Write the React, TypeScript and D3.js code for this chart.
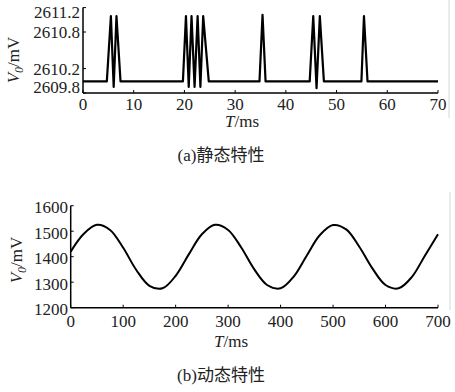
import React from 'react';
import * as d3 from 'd3';

// (a) static characteristic: time (ms) / output (mV)
const staticTime = [0, 4.7, 5.5, 6.05, 6.6, 7.4, 19.7, 20.3, 20.85, 21.4, 22.0, 22.6, 23.15, 23.7, 24.8, 34.8, 35.4, 36.0, 44.7, 45.4, 46.05, 46.7, 47.5, 54.9, 55.4, 56.1, 70];
const staticVolt = [2609.99, 2609.99, 2611.06, 2609.9, 2611.06, 2609.99, 2609.99, 2611.06, 2609.9, 2611.06, 2609.9, 2611.06, 2609.9, 2611.06, 2609.99, 2609.99, 2611.08, 2609.99, 2609.99, 2611.06, 2609.88, 2611.06, 2609.99, 2609.99, 2611.06, 2609.99, 2609.99];
const staticXTicks = [0, 10, 20, 30, 40, 50, 60, 70];
const staticYTicks = [2609.8, 2610.2, 2610.8, 2611.2];

// (b) dynamic characteristic
const dynTime = [0, 25, 50, 75, 100, 125, 150, 175, 200, 225, 250, 275, 300, 325, 350, 375, 400, 425, 450, 475, 500, 525, 550, 575, 600, 625, 650, 675, 700];
const dynVolt = [1420, 1490, 1525, 1505, 1435, 1348, 1286, 1276, 1325, 1409, 1488, 1525, 1505, 1436, 1350, 1288, 1276, 1322, 1405, 1485, 1524, 1507, 1439, 1354, 1289, 1276, 1320, 1404, 1488];
const dynXTicks = [0, 100, 200, 300, 400, 500, 600, 700];
const dynYTicks = [1200, 1300, 1400, 1500, 1600];

const serif = '"Times New Roman", "Liberation Serif", Tinos, "Noto Serif", "DejaVu Serif", serif';
const captionFont = '"Times New Roman", "Liberation Serif", "Noto Sans CJK SC", serif';

const YTitle = ({ x, y }: { x: number; y: number }) => (
  <text transform={`translate(${x},${y}) rotate(-90)`} textAnchor="middle" fontFamily={serif} fontSize={17} fill="#222">
    <tspan fontStyle="italic">V</tspan>
    <tspan fontStyle="italic" fontSize={12} dy={4}>0</tspan>
    <tspan dy={-4}>/mV</tspan>
  </text>
);

const XTitle = ({ x, y }: { x: number; y: number }) => (
  <text x={x} y={y} textAnchor="middle" fontFamily={serif} fontSize={17} fill="#222">
    <tspan fontStyle="italic">T</tspan>/ms
  </text>
);

export default function App() {
  // top panel scales
  const xa = d3.scaleLinear().domain([0, 70]).range([83, 438]);
  const ya = d3.scaleLinear().domain([2609.8, 2611.2]).range([93, 7.6]);
  const lineA = d3.line<number>()
    .x((_, i) => xa(staticTime[i]))
    .y(d => ya(d));

  // bottom panel scales
  const xb = d3.scaleLinear().domain([0, 700]).range([70.7, 438]);
  const yb = d3.scaleLinear().domain([1200, 1600]).range([307.7, 205.7]);
  const lineB = d3.line<number>()
    .x((_, i) => xb(dynTime[i]))
    .y(d => yb(d))
    .curve(d3.curveCatmullRom.alpha(0.5));

  return (
    <svg width={455} height={392} style={{ position: 'absolute', left: 0, top: 0, background: '#fff' }}>
      <rect width={455} height={392} fill="#fff" />

      {/* faint scan frame */}
      <line x1={449} x2={449} y1={0} y2={118} stroke="#d8d8d8" />
      <line x1={450} x2={450} y1={192} y2={310} stroke="#d8d8d8" />

      {/* ---- (a) ---- */}
      <line x1={xa(0)} x2={xa(70)} y1={ya(2609.8)} y2={ya(2609.8)} stroke="#000" strokeWidth={1.5} />
      <line x1={xa(0)} x2={xa(0)} y1={ya(2609.8)} y2={ya(2611.2)} stroke="#000" strokeWidth={1.5} />
      {staticXTicks.map(t => (
        <g key={t}>
          <line x1={xa(t)} x2={xa(t)} y1={ya(2609.8)} y2={ya(2609.8) - 3} stroke="#000" />
          <text x={xa(t)} y={110} textAnchor="middle" fontFamily={serif} fontSize={17} fill="#222">{t}</text>
        </g>
      ))}
      {staticYTicks.map(v => (
        <g key={v}>
          <line x1={xa(0)} x2={xa(0) + 3} y1={ya(v)} y2={ya(v)} stroke="#000" />
          <text x={80} y={Math.min(Math.max(ya(v), 12), 87)} dy="0.35em" textAnchor="end" fontFamily={serif} fontSize={17} fill="#222">
            {v.toFixed(1)}
          </text>
        </g>
      ))}
      <path d={lineA(staticVolt) ?? ''} fill="none" stroke="#000" strokeWidth={2.2} strokeLinejoin="round" />
      <YTitle x={19} y={60} />
      <XTitle x={242} y={127} />
      <text x={221} y={161} textAnchor="middle" fontFamily={captionFont} fontSize={17} fill="#222">(a)静态特性</text>

      {/* ---- (b) ---- */}
      <line x1={xb(0)} x2={xb(700)} y1={yb(1200)} y2={yb(1200)} stroke="#000" strokeWidth={1.5} />
      <line x1={xb(0)} x2={xb(0)} y1={yb(1200)} y2={yb(1600)} stroke="#000" strokeWidth={1.5} />
      {dynXTicks.map(t => (
        <g key={t}>
          <line x1={xb(t)} x2={xb(t)} y1={yb(1200)} y2={yb(1200) - 3} stroke="#000" />
          <text x={xb(t)} y={327} textAnchor="middle" fontFamily={serif} fontSize={17} fill="#222">{t}</text>
        </g>
      ))}
      {dynYTicks.map(v => (
        <g key={v}>
          <line x1={xb(0)} x2={xb(0) + 3} y1={yb(v)} y2={yb(v)} stroke="#000" />
          <text x={68} y={yb(v) + 1.5} dy="0.35em" textAnchor="end" fontFamily={serif} fontSize={17} fill="#222">{v}</text>
        </g>
      ))}
      <path d={lineB(dynVolt) ?? ''} fill="none" stroke="#000" strokeWidth={2} />
      <YTitle x={22} y={260} />
      <XTitle x={231} y={347} />
      <text x={221} y={381} textAnchor="middle" fontFamily={captionFont} fontSize={17} fill="#222">(b)动态特性</text>
    </svg>
  );
}
